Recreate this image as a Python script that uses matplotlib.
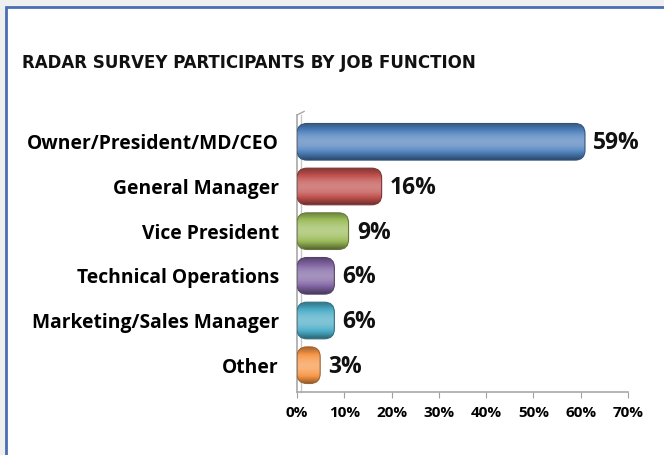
import numpy as np
import matplotlib
matplotlib.use("Agg")
import matplotlib.pyplot as plt
from matplotlib.patches import FancyBboxPatch, Rectangle
from matplotlib.colors import to_rgb

# Survey data
categories = ["Owner/President/MD/CEO", "General Manager", "Vice President",
              "Technical Operations", "Marketing/Sales Manager", "Other"]
shares = [59, 16, 9, 6, 6, 3]
bar_colors = ["#4F81BD", "#C0504D", "#9BBB59", "#8064A2", "#4BACC6", "#F79646"]
x_ticks = [0, 10, 20, 30, 40, 50, 60, 70]
tick_labels = ["0%", "10%", "20%", "30%", "40%", "50%", "60%", "70%"]
title = "RADAR SURVEY PARTICIPANTS BY JOB FUNCTION"

W, H = 664, 455
fig = plt.figure(figsize=(W / 100, H / 100), dpi=100)
fig.patch.set_facecolor("#EFEFEF")

# white panel with blue border (only top and left edges fall inside the canvas)
panel = Rectangle((6 / W, -0.1), 1.2, 1 - 7 / H + 0.1, transform=fig.transFigure,
                  facecolor="white", edgecolor="#4A6EB4", linewidth=2.0, zorder=0)
fig.add_artist(panel)

fig.text(22 / W, 1 - 63 / H, title, fontsize=13.3, fontweight="bold",
         family="DejaVu Sans", stretch="condensed", color="#111111",
         va="center", ha="left")

ax = fig.add_axes([297 / W, 1 - 392 / H, 331 / W, 277 / H])
ax.set_facecolor("none")
ax.set_xlim(0, 70)
ax.set_ylim(-0.6, 5.6)

ypos = np.arange(len(categories))[::-1]
bar_h = 0.82
depth = 1.9
xr = 70 / 331.0
yr = 6.2 / 277.0
radius_px = 10
rx = radius_px * xr
aspect = yr / xr

FONT = "Open Sans"


def shade(color, n=64):
    base = np.array(to_rgb(color))
    t = np.linspace(0, 1, n)  # 0 bottom, 1 top
    # cylinder-like profile: darker at bottom, highlight above middle
    light = 0.6 + 0.72 * np.sin(np.pi * (0.12 + 0.8 * t)) ** 1.5
    light = light - 0.2 * (1 - t) ** 3
    rows = []
    for l in light:
        if l <= 1:
            c = base * l
        else:
            c = base + (1 - base) * (l - 1)
        rows.append(np.clip(c, 0, 1))
    return np.array(rows)[:, None, :]


for y, v, c in zip(ypos, shares, bar_colors):
    w = v + depth
    patch = FancyBboxPatch((0, y - bar_h / 2), w, bar_h,
                           boxstyle=f"round,pad=0,rounding_size={rx}",
                           mutation_aspect=aspect,
                           facecolor="none", edgecolor=np.array(to_rgb(c)) * 0.65,
                           linewidth=0.8, zorder=3)
    ax.add_patch(patch)
    im = ax.imshow(shade(c), extent=(0, w, y - bar_h / 2, y + bar_h / 2),
                   origin="lower", aspect="auto", zorder=2, interpolation="bilinear")
    im.set_clip_path(patch)
    ax.annotate(f"{v}%", xy=(w, y), xytext=(6, -1), textcoords="offset points",
                ha="left", va="center", fontsize=16.5, fontweight="bold",
                family=FONT, color="#111111")

ax.set_xlim(0, 70)
ax.set_ylim(-0.6, 5.6)
ax.set_xticks(x_ticks)
ax.set_xticklabels(tick_labels, fontsize=11, fontweight="bold", family=FONT)
ax.set_yticks(ypos)
ax.set_yticklabels(categories, fontsize=13.9, fontweight="bold", family=FONT)
ax.tick_params(axis="x", length=4, color="#A0A0A0", pad=6)
ax.tick_params(axis="y", length=0, pad=13)
for s in ["top", "right"]:
    ax.spines[s].set_visible(False)
for s in ["left", "bottom"]:
    ax.spines[s].set_color("#A8A8A8")
    ax.spines[s].set_linewidth(1.2)

# thin 3D wall edge next to the category axis
ax.plot([0.9, 0.9], [-0.6, 5.6], color="#C8C8C8", lw=1.0, clip_on=False, zorder=1)
ax.plot([0, 0.9 + 0.6], [5.6, 5.6 + 0.08], color="#A8A8A8", lw=1.0, clip_on=False)

fig.savefig("out.png", dpi=100, facecolor=fig.get_facecolor())
